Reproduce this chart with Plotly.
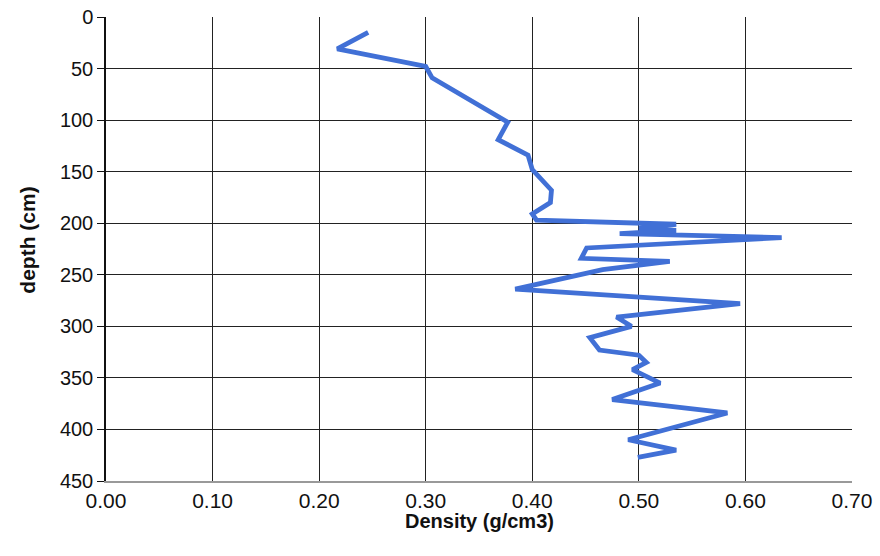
import plotly.graph_objects as go

# Snow density profile: density (g/cm3) against depth (cm)
density = [0.246, 0.217, 0.300, 0.306, 0.377, 0.368, 0.396, 0.400, 0.418, 0.417,
           0.400, 0.404, 0.535, 0.500, 0.535, 0.482, 0.634, 0.451, 0.446, 0.529,
           0.466, 0.384, 0.595, 0.479, 0.493, 0.454, 0.463, 0.500, 0.507, 0.494,
           0.520, 0.475, 0.583, 0.490, 0.535, 0.499]
depth = [15, 31, 48, 59, 102, 119, 134, 148, 168, 180,
         191, 197, 201, 205, 207, 210, 214, 224, 234, 237,
         245, 264, 278, 291, 300, 311, 323, 328, 335, 342,
         355, 371, 384, 410, 420, 427]

x_ticks = [0.0, 0.1, 0.2, 0.3, 0.4, 0.5, 0.6, 0.7]
y_ticks = [0, 50, 100, 150, 200, 250, 300, 350, 400, 450]

x_title = "<b>Density (g/cm3)</b>"
y_title = "<b>depth (cm)</b>"

fig = go.Figure()
fig.add_trace(go.Scatter(
    x=density, y=depth, mode="lines",
    line=dict(color="#4170d6", width=4.8),
    showlegend=False,
))

font = dict(family="Liberation Sans, Arial, sans-serif", color="#111")

fig.update_layout(
    width=880, height=556,
    margin=dict(l=106, r=28, t=17, b=75, autoexpand=False),
    paper_bgcolor="white", plot_bgcolor="white",
    font=font,
    xaxis=dict(
        range=[0, 0.7], tickvals=x_ticks, tickformat=".2f",
        showgrid=True, gridcolor="#222", gridwidth=1.3,
        showline=True, linecolor="#999", linewidth=2,
        ticks="", tickfont=dict(size=21, **font),
        zeroline=False, automargin=False,
    ),
    yaxis=dict(
        range=[450, 0], tickvals=y_ticks,
        showgrid=True, gridcolor="#222", gridwidth=1.3,
        showline=True, linecolor="#111", linewidth=1.5,
        ticks="outside", ticklen=7, tickcolor="#111",
        tickfont=dict(size=20, **font),
        zeroline=False, automargin=False,
    ),
    annotations=[
        dict(text=x_title, xref="paper", yref="paper", x=0.5, y=-0.086,
             xanchor="center", yanchor="middle", showarrow=False,
             font=dict(size=20, **font)),
        dict(text=y_title, xref="paper", yref="paper", x=-0.1046, y=0.52,
             xanchor="center", yanchor="middle", textangle=-90, showarrow=False,
             font=dict(size=21, **font)),
    ],
)

fig.write_html("out.html")
